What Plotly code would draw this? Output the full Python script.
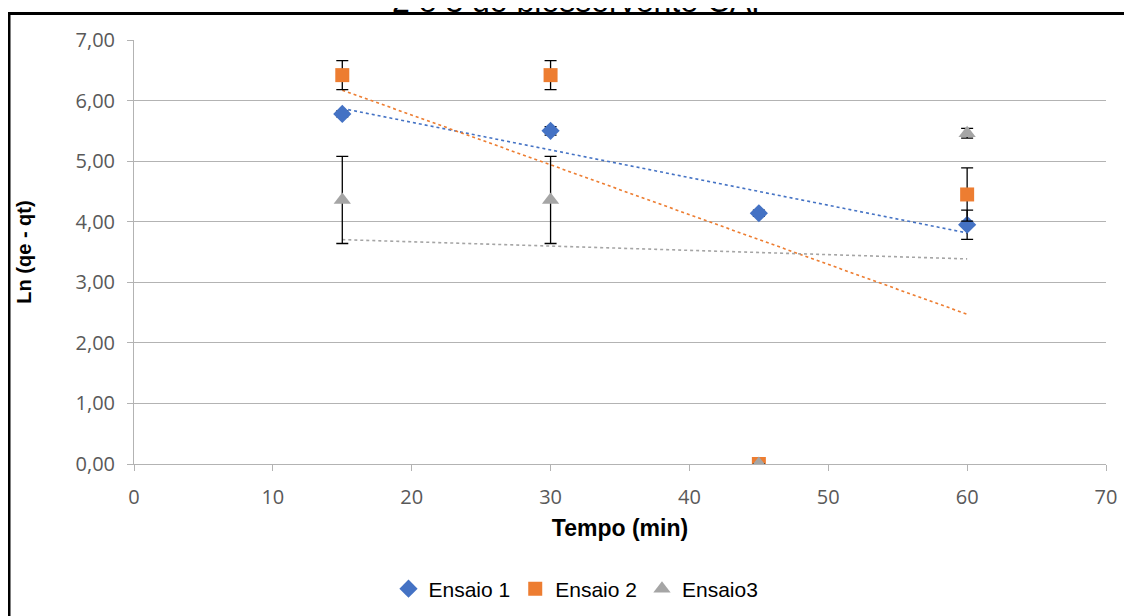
import numpy as np
import plotly.graph_objects as go

tempo = [15, 30, 45, 60]
ensaio1 = [5.78, 5.50, 4.14, 3.95]
ensaio1_err = [0.05, 0.07, 0.05, 0.24]
ensaio2 = [6.42, 6.42, 0.00, 4.45]
ensaio2_err = [0.24, 0.24, 0.0, 0.44]
ensaio3 = [4.36, 4.36, 0.00, 5.46]
ensaio3_err = [0.72, 0.72, 0.0, 0.08]

names = ["Ensaio 1", "Ensaio 2", "Ensaio3"]
colors = ["#4472C4", "#ED7D31", "#A5A5A5"]
symbols = ["diamond", "square", "triangle-up"]
sizes = [14, 14, 15]

# page has an 8px body margin: figure is placed at (8, 8) on screen
OFF = 8
W, H = 1132 - OFF, 616 - OFF
# plot area on screen: x 134..1106, y 40..464
L, T = 134 - OFF, 40 - OFF
R = W - (1106 - OFF)
B = H - (464 - OFF)
pw, ph = W - L - R, H - T - B

def px2paper_x(px):   # px = screen pixel
    return (px - 134) / pw

def px2paper_y(py):
    return (464 - py) / ph

fig = go.Figure()

series = [(ensaio1, ensaio1_err), (ensaio2, ensaio2_err), (ensaio3, ensaio3_err)]

# trendlines (linear regression on each series)
for (vals, _), c in zip(series, colors):
    k, b = np.polyfit(tempo, vals, 1)
    xs = [min(tempo), max(tempo)]
    fig.add_trace(go.Scatter(
        x=xs, y=[k * x + b for x in xs], mode="lines",
        line=dict(color=c, width=1.6, dash="3px,3px"),
        showlegend=False, hoverinfo="skip"))

for (vals, err), n, c, s, sz in zip(series, names, colors, symbols, sizes):
    fig.add_trace(go.Scatter(
        x=tempo, y=vals, mode="markers", name=n,
        marker=dict(symbol=s, color=c, size=sz),
        error_y=dict(type="data", array=err, visible=True,
                     color="black", thickness=1.3, width=6)))

# chart frame
fig.add_shape(type="rect", xref="paper", yref="paper",
              x0=px2paper_x(9), x1=px2paper_x(1150),
              y0=px2paper_y(650), y1=px2paper_y(13.5),
              line=dict(color="black", width=3), fillcolor="rgba(0,0,0,0)",
              layer="below")

# title (cropped at top in the original)
fig.add_annotation(text="2 e 3 do biossorvente CAP", xref="paper", yref="paper",
                   x=px2paper_x(582), y=px2paper_y(20), xanchor="center", yanchor="bottom",
                   showarrow=False, borderpad=0,
                   font=dict(family="Liberation Sans, Arial", size=32, color="black"))

fig.update_layout(
    width=W, height=H,
    margin=dict(l=L, r=R, t=T, b=B, autoexpand=False),
    paper_bgcolor="white", plot_bgcolor="white",
    font=dict(family="Liberation Sans, Arial", color="#595959"),
    legend=dict(orientation="h", x=px2paper_x(576), xanchor="center",
                y=px2paper_y(589), yanchor="middle",
                font=dict(family="Liberation Sans, Arial", size=21, color="black"),
                itemwidth=30, traceorder="normal"),
    showlegend=True,
)

tickfont = dict(family="Open Sans", size=20, color="#595959")
fig.update_xaxes(range=[0, 70], tickvals=list(range(0, 71, 10)),
                 showgrid=False, showline=True, linecolor="#B3B3B3", linewidth=1,
                 ticks="outside", ticklen=6, tickcolor="#B3B3B3",
                 tickfont=tickfont, ticklabelstandoff=9,
                 title=dict(text="<b>Tempo (min)</b>", standoff=10,
                            font=dict(family="Liberation Sans, Arial", size=23, color="black")),
                 zeroline=False)
fig.update_yaxes(range=[0, 7], tickvals=list(range(0, 8)),
                 ticktext=[f"{v},00" for v in range(0, 8)],
                 showgrid=True, gridcolor="#B3B3B3", gridwidth=1,
                 showline=True, linecolor="#B3B3B3", linewidth=1,
                 ticks="outside", ticklen=6, tickcolor="#B3B3B3",
                 tickfont=tickfont, ticklabelstandoff=8,
                 title=dict(text="<b>Ln (qe - qt)</b>", standoff=38,
                            font=dict(family="Liberation Sans, Arial", size=20, color="black")),
                 zeroline=False)

fig.write_html("out.html")
